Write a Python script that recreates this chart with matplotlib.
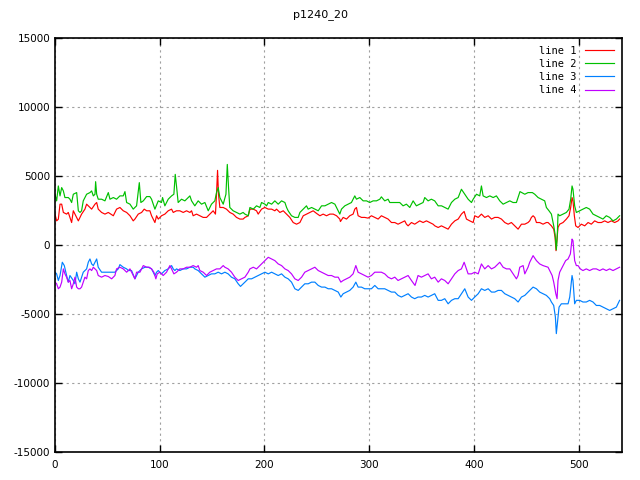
import matplotlib
matplotlib.use("Agg")
import matplotlib.pyplot as plt

plt.rcParams["axes.unicode_minus"] = False

# ---------- data ----------
x1 = [0, 1.6, 3.2, 4.8, 6.4, 8, 11.1, 12.7, 14.3, 15.9, 17.5, 19.1, 22.3, 25.4, 28.6, 30.2, 33.4, 35,
      38.2, 39.8, 41.3, 44.5, 47.7, 50.9, 55.7, 57.2, 58.8, 62, 65.2, 68.4, 71.6, 74.7, 76.3, 79.5, 82.7,
      85.2, 87.5, 90.6, 92.2, 95.4, 97, 98.6, 101.7, 104.9, 108.1, 111.3, 112.9, 116, 119.2, 122.4, 125.6,
      128.8, 130.4, 131.9, 135.1, 138.3, 141.5, 144.7, 147.8, 151, 153.2, 154.2, 155.2, 156.1, 157.4, 160.6,
      163.7, 166.9, 170.1, 173.3, 176.5, 179.6, 181.3, 184.5, 186.1, 189.3, 192.4, 194, 197.2, 200.4, 203.6,
      206.8, 209.9, 211.5, 214.7, 217.9, 221.1, 224.2, 227.4, 230.6, 233.8, 237, 240.1, 243.3, 246.5, 249.7,
      252.9, 256, 259.2, 262.4, 265.6, 268.8, 271.9, 272.5, 275.1, 278.3, 281.4, 284.6, 286.2, 287.8, 289.4,
      292.6, 295.7, 298.9, 302.1, 305.3, 308.5, 311.6, 314.8, 318, 321.2, 324.4, 327.5, 330.7, 333.9, 335.5,
      337.1, 340.3, 343.4, 348.2, 351.4, 354.6, 357.8, 360.9, 362.6, 365.8, 368.9, 372.1, 375.3, 378.5,
      381.7, 384.9, 388, 390.6, 392.8, 396, 399.2, 400.7, 404, 407.1, 410.3, 413.5, 416.7, 419.8, 423, 426.2,
      429.4, 432.6, 435.7, 438.9, 442.1, 445.3, 448.5, 451.6, 453.2, 454.8, 456.4, 458, 459.6, 462.7, 465.9,
      469.1, 470.7, 472.3, 473.9, 476.1, 477.4, 478.3, 479.3, 480.2, 481.8, 485, 488.2, 490.7, 492.3, 493.6,
      494.5, 495.8, 497.1, 499.3, 502.5, 505.7, 508.9, 512, 515.2, 518.4, 521.6, 524.8, 527.9, 531.1, 534.3,
      537.5, 539]
y1 = [2240, 1750, 1870, 2960, 2960, 2360, 2240, 2360, 2000, 1630, 2480, 2240, 1750, 2240, 2600, 2960, 2720,
      2600, 2960, 3080, 2600, 2360, 2240, 2360, 2120, 2360, 2600, 2720, 2480, 2360, 2120, 1750, 1880, 2240,
      2360, 2600, 2480, 2480, 2120, 1630, 2120, 1880, 2120, 2240, 2480, 2600, 2360, 2480, 2480, 2360, 2480,
      2360, 2480, 2120, 2240, 2120, 2000, 2000, 2240, 2480, 2240, 3680, 5410, 3680, 2720, 2720, 2600, 2360,
      2240, 2000, 1880, 1880, 2000, 2120, 2600, 2600, 2480, 2240, 2600, 2720, 2600, 2600, 2480, 2600, 2360,
      2480, 2240, 2000, 1630, 1510, 1630, 2120, 2240, 2360, 2480, 2290, 2120, 2240, 2120, 2240, 2240, 2120,
      1880, 1700, 2000, 1880, 2120, 2240, 2600, 2720, 2120, 2000, 2000, 1950, 2120, 2000, 1880, 2120, 2000,
      1880, 1630, 1630, 1510, 1630, 1750, 1510, 1390, 1630, 1510, 1750, 1630, 1750, 1630, 1510, 1390, 1270,
      1390, 1270, 1150, 1510, 1750, 1880, 2240, 2430, 1880, 1750, 1630, 2120, 2000, 2240, 2000, 2120, 1880,
      2000, 2000, 1880, 1630, 1510, 1630, 1390, 1150, 1510, 1510, 1630, 1750, 2000, 2120, 2000, 1630, 1630,
      1510, 1630, 1630, 1510, 1390, 1150, 550, -410, 430, 1270, 1510, 1630, 1880, 2120, 2720, 3440, 3200,
      2120, 1390, 1270, 1510, 1390, 1630, 1510, 1750, 1630, 1630, 1750, 1630, 1750, 1630, 1750, 1880]

x2 = [0, 1.6, 3.2, 4.8, 6.4, 8, 9.5, 11.1, 12.7, 14.3, 15.9, 17.5, 20.7, 22.3, 23.9, 25.4, 27, 30.2, 33.4,
      35, 36.6, 38.2, 38.8, 39.8, 41.3, 44.5, 47.7, 50.9, 52.5, 55.7, 58.8, 62, 65.2, 66.8, 68.4, 71.6, 74.7,
      77.9, 80.5, 82, 84.3, 87.5, 90.6, 92.2, 95.4, 98.6, 101.7, 102.7, 104.9, 108.1, 111.3, 113.5, 114.8,
      116, 117.6, 120.8, 124, 127.2, 128.8, 130.4, 133.5, 136.7, 139.9, 143.1, 146.3, 149.4, 152.6, 154.2,
      155.8, 157.4, 160.6, 163.2, 164.5, 165.7, 166.9, 170.1, 173.3, 176.5, 179.6, 181.3, 184.5, 186.1,
      189.3, 192.4, 195.6, 197.2, 200.4, 202, 203.6, 206.8, 209.9, 213.1, 216.3, 219.5, 221.1, 222.6, 225.8,
      229, 232.2, 233.8, 237, 240.1, 241.7, 245, 248.1, 251.3, 254.5, 257.7, 260.8, 264, 267.2, 271.9, 273.5,
      276.7, 279.9, 283, 286.2, 287.8, 291, 294.2, 297.4, 300.5, 303.7, 306.9, 310.1, 311.6, 314.8, 318,
      319.6, 322.8, 326, 329.1, 332.3, 335.5, 338.7, 341.9, 345, 348.2, 351.4, 353, 356.2, 359.3, 362.5,
      365.8, 369, 372.1, 375.3, 378.5, 381.7, 384.9, 388, 391.2, 394.4, 397.6, 399.2, 402.4, 405.5, 407.1,
      408.7, 411.9, 415.1, 418.3, 421.4, 424.6, 427.8, 431, 434.2, 437.3, 440.5, 443.9, 448.5, 451.6, 453.2,
      455.7, 458, 461.2, 464.4, 467.5, 469.1, 471.6, 473.9, 476.1, 477.4, 478.6, 479.5, 480.2, 481.8, 485,
      488.2, 490.7, 492.3, 493.6, 494.5, 496.1, 497.7, 500.9, 504, 507.2, 510.4, 513.6, 516.8, 520, 523.1,
      526.3, 529.5, 532.7, 535.9, 539]
y2 = [3680, 3200, 4280, 3560, 4160, 3920, 3440, 3440, 3440, 3320, 3080, 3680, 3800, 2480, 2360, 2480, 3200,
      3680, 3800, 3920, 3560, 3680, 4590, 3680, 3320, 3320, 3200, 3800, 3320, 3440, 3320, 3560, 3560, 3870,
      3080, 2960, 2600, 2840, 4520, 3080, 3200, 3510, 3510, 3320, 2600, 3200, 3080, 3440, 2840, 3320, 3560,
      3680, 5120, 4280, 3080, 3320, 3200, 3440, 3560, 3200, 2840, 3200, 2960, 3080, 2480, 2960, 3200, 3800,
      4160, 3440, 2960, 3680, 5840, 4160, 2720, 2480, 2360, 2240, 2360, 2240, 2120, 2720, 2600, 2840, 2720,
      3080, 2960, 2840, 3080, 2960, 3200, 2960, 3200, 3080, 2720, 2480, 2120, 2000, 2000, 2360, 2600, 2840,
      2600, 2720, 2600, 2480, 2840, 2840, 2960, 3080, 2960, 2240, 2600, 2840, 2960, 3080, 3560, 3320, 3440,
      3200, 3200, 3080, 3200, 3200, 3320, 3490, 3200, 3320, 3080, 3080, 3080, 3080, 2840, 2960, 2720, 3200,
      2840, 2960, 3080, 3440, 3200, 3320, 3200, 2840, 2840, 2720, 2600, 3080, 3320, 3440, 4040, 3680, 3320,
      3080, 3320, 3680, 3560, 4280, 3560, 3440, 3560, 3440, 3560, 3200, 2960, 3080, 3200, 3080, 3080, 3870,
      3680, 3800, 3800, 3800, 3680, 3440, 3320, 3200, 2720, 2480, 2240, 1390, 790, -350, 670, 2240, 2120,
      2240, 2360, 2600, 3320, 4280, 4040, 2840, 2360, 2480, 2600, 2720, 2600, 2240, 2120, 2000, 1880, 2120,
      2000, 1750, 1880, 2120]

x3 = [0, 1.6, 3.2, 4.8, 7, 8.9, 11.1, 12.7, 14.3, 17.5, 19.1, 20.7, 22.3, 23.9, 25.4, 27, 30.2, 31.8, 33.4,
      35, 36.6, 38.2, 39.8, 41.3, 44.5, 47.7, 50.9, 54.1, 57.2, 60.4, 62, 65.2, 68.4, 70, 73.1, 76.3, 79.5,
      82.7, 85.9, 89, 92.2, 93.8, 95.4, 97, 98.6, 101.7, 104.9, 108.1, 111.3, 112.9, 114.5, 116, 119.2, 122.4,
      125.6, 128.8, 132, 133.5, 136.7, 139.9, 143.1, 146.3, 149.4, 152.6, 155.8, 159, 162.2, 165.3, 168.5,
      171.7, 174.9, 177.1, 179.6, 181.3, 184.5, 187.7, 190.8, 194, 197.2, 200.4, 203.6, 206.8, 209.9, 213.1,
      216.3, 219.5, 222.6, 225.8, 229, 232.2, 235.4, 238.5, 241.7, 244.9, 248.1, 251.3, 254.5, 257.7, 260.8,
      264, 267.2, 270.4, 272.9, 275.1, 278.3, 281.4, 284.6, 287.2, 289.4, 292.6, 295.7, 298.9, 302.1, 305.3,
      308.5, 311.6, 314.8, 318, 321.2, 324.4, 327.5, 330.7, 333.9, 337.1, 340.3, 343.4, 346.6, 349.8, 353,
      356.2, 359.3, 362.5, 365.8, 368.9, 372.1, 375.3, 378.5, 381.7, 384.9, 388, 391.2, 394.4, 397.6, 400.7,
      404, 407.1, 410.3, 413.5, 416.7, 419.8, 423, 426.2, 429.4, 432.6, 435.7, 438.9, 442.1, 445.3, 448.5,
      451.6, 453.2, 456.4, 459.6, 462.7, 465.9, 469.1, 472.3, 473.9, 476.1, 477.7, 478.6, 479.6, 481.2, 483.4,
      486.6, 489.8, 491.4, 493.6, 494.5, 496.1, 497.7, 500.9, 504, 507.2, 510.4, 513.6, 516.8, 520, 523.1,
      526.3, 529.5, 532.7, 535.9, 539]
y3 = [-1970, -2090, -2570, -2210, -1250, -1490, -2210, -2690, -2210, -2570, -2810, -1970, -2450, -2690, -2330,
      -1970, -1730, -1250, -1010, -1370, -1490, -1250, -1010, -1610, -1970, -1970, -1970, -1970, -1970, -1730,
      -1420, -1610, -1730, -1850, -1850, -2450, -1970, -1730, -1610, -1610, -1730, -1970, -2210, -1970, -1850,
      -2090, -1850, -1730, -1490, -1730, -1850, -1730, -1850, -1730, -1730, -1610, -1610, -1730, -1850, -2090,
      -2330, -2210, -2090, -2090, -1970, -2090, -1970, -2090, -2330, -2450, -2810, -3000, -2810, -2690, -2450,
      -2450, -2330, -2210, -2090, -1970, -2090, -1970, -2090, -2210, -2090, -2330, -2450, -2690, -3170, -3290,
      -3050, -2810, -2810, -2690, -2690, -2930, -3050, -3050, -3170, -3170, -3290, -3410, -3770, -3530, -3410,
      -3290, -3050, -2690, -3050, -3050, -3170, -3170, -3170, -2930, -3170, -3170, -3170, -3290, -3410, -3410,
      -3650, -3770, -3650, -3530, -3770, -3890, -3770, -3770, -3650, -3770, -3650, -3530, -4010, -4010, -3890,
      -4260, -4010, -3890, -3890, -3530, -3170, -3770, -4010, -3770, -3530, -3170, -3290, -3170, -3410, -3410,
      -3290, -3290, -3530, -3650, -3770, -3890, -4130, -3770, -3650, -3410, -3290, -3050, -3170, -3410, -3530,
      -3650, -3890, -4130, -4380, -5220, -6420, -5700, -4500, -4260, -4260, -4260, -3770, -2210, -2570, -4260,
      -4010, -4010, -4130, -4130, -4010, -4130, -4380, -4380, -4500, -4620, -4740, -4620, -4500, -4010]

x4 = [0, 1.6, 3.2, 4.8, 6.4, 8, 9.5, 11.1, 12.7, 14.3, 15.9, 17.5, 19.1, 20.7, 22.3, 23.9, 25.4, 27, 28.6,
      30.2, 31.8, 33.4, 35, 36.6, 38.2, 39.8, 41.3, 44.5, 47.7, 50.9, 54.1, 57.2, 58.8, 62, 65.2, 68.4, 71.6,
      74.7, 76.3, 77.9, 81.1, 84.3, 87.5, 90, 92.2, 94.4, 96.3, 97.6, 100.1, 103.3, 106.5, 108.1, 109.7,
      111.3, 113.5, 116, 119.2, 122.4, 125.6, 128.8, 131.9, 135.1, 136.7, 138.3, 141.5, 144.7, 147.8, 151,
      154.2, 157.4, 160.6, 162.2, 165.3, 168.5, 171.7, 174.9, 178.1, 181.3, 184.5, 186.1, 189.3, 192.4, 195.6,
      198.8, 202, 203.6, 206.8, 209.9, 213.1, 216.3, 219.5, 222.6, 225.8, 229, 232.2, 235.4, 238.5, 241.7,
      244.9, 248.1, 251.3, 254.5, 257.7, 260.8, 264, 267.2, 270.4, 272.9, 275.1, 278.3, 281.4, 284.6, 287.2,
      289.4, 292.6, 295.7, 298.9, 302.1, 305.3, 308.5, 311.6, 314.8, 318, 321.2, 324.4, 327.5, 330.7, 333.9,
      337.1, 340.3, 343.7, 346.6, 349.8, 353, 356.2, 359.3, 362.5, 365.8, 368.9, 372.1, 375.3, 378.5, 381.7,
      384.9, 388, 390.6, 392.8, 394.4, 397.6, 400.7, 404, 407.1, 410.3, 413.5, 416.7, 419.8, 423, 424.6, 427.8,
      431, 434.2, 437.3, 440.5, 442.1, 443.7, 446.9, 448.5, 451.6, 453.2, 456.4, 459.6, 462.7, 465.9, 470.7,
      472.3, 474.6, 476.1, 478.1, 479.3, 480.2, 481.8, 485, 487.5, 489.8, 492, 493.6, 494.5, 496.1, 497.7,
      499.3, 501.5, 504, 507.2, 510.4, 513.6, 516.8, 520, 523.1, 526.3, 529.5, 532.7, 535.9, 539]
y4 = [-2690, -2810, -3170, -3050, -2690, -1730, -2090, -2330, -2690, -2570, -3170, -2810, -2330, -3050, -3170,
      -3170, -3050, -2690, -2330, -2450, -1850, -1730, -1850, -1610, -1730, -1850, -2210, -2330, -2210, -2280,
      -2450, -2210, -1730, -1610, -1730, -1970, -1730, -2210, -2450, -1970, -1970, -1490, -1610, -1610, -1730,
      -1970, -2450, -2090, -1970, -2210, -1970, -1730, -1490, -1730, -2090, -1970, -1730, -1730, -1610, -1610,
      -1490, -1610, -1490, -1850, -1970, -2210, -1970, -1850, -1730, -1730, -1490, -1610, -1730, -1970, -2330,
      -2570, -2450, -2330, -1970, -1730, -1610, -1730, -1490, -1250, -1010, -890, -1010, -1130, -1370, -1490,
      -1730, -1850, -2090, -2450, -2570, -2330, -1970, -1850, -1730, -1610, -1850, -1970, -2090, -2210, -2210,
      -2330, -2330, -2690, -2570, -2450, -2330, -2090, -1490, -1970, -2090, -2210, -2330, -2210, -1970, -1970,
      -1970, -2090, -2330, -2450, -2330, -2570, -2450, -2330, -2210, -2570, -2930, -2210, -2330, -2210, -2090,
      -2450, -2330, -2690, -2450, -2570, -2810, -2450, -2090, -1850, -1730, -1250, -1730, -2090, -2090, -1970,
      -2090, -1370, -1730, -1490, -1730, -1610, -1370, -1250, -1610, -1730, -1730, -2090, -2450, -2210, -1610,
      -1490, -2090, -1610, -1250, -770, -1130, -1370, -1490, -1610, -1850, -2210, -2690, -3530, -3890, -2570,
      -1970, -1490, -1130, -1010, -650, 430, 310, -1130, -1490, -1490, -1730, -1850, -1730, -1850, -1730,
      -1730, -1850, -1730, -1850, -1730, -1850, -1730, -1610]

series = [(x1, y1, "line 1", "#ff0000"),
          (x2, y2, "line 2", "#00c000"),
          (x3, y3, "line 3", "#0080ff"),
          (x4, y4, "line 4", "#c000ff")]

xticks = [0, 100, 200, 300, 400, 500]
yticks = [-15000, -10000, -5000, 0, 5000, 10000, 15000]

# ---------- plot ----------
fig = plt.figure(figsize=(6.4, 4.8), dpi=100)
ax = fig.add_axes([0.0859, 0.0583, 0.8855, 0.8625])

for xs, ys, label, color in series:
    ax.plot(xs, ys, color=color, linewidth=0.85, label=label)

ax.set_xlim(0, 541)
ax.set_ylim(-15000, 15000)
ax.set_xticks(xticks)
ax.set_yticks(yticks)
ax.tick_params(direction="in", length=5, width=1, top=True, right=True,
               labelsize=7.5, colors="black")
ax.tick_params(axis="x", pad=6)
ax.grid(True, color="#a0a0a0", linestyle=(0, (2, 3)), linewidth=0.8)
for sp in ax.spines.values():
    sp.set_linewidth(1.2)

fig.text(0.5, 0.97, "p1240_20", ha="center", va="center", fontsize=8)

leg = ax.legend(loc="upper right", frameon=False, markerfirst=False,
                handlelength=2.8, handletextpad=0.75, labelspacing=0.3,
                borderpad=0.0, borderaxespad=0.75,
                prop={"family": "DejaVu Sans Mono", "size": 7.5})

fig.savefig("out.png", dpi=100)
